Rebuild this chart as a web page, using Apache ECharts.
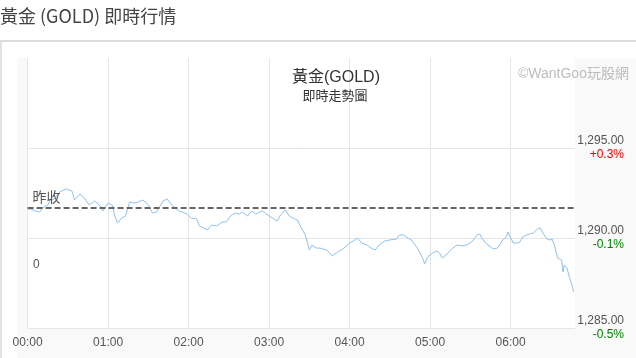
<!DOCTYPE html>
<html>
<head>
<meta charset="utf-8">
<script src="https://cdn.jsdelivr.net/npm/echarts@6/dist/echarts.min.js"></script>
<style>
html,body{margin:0;padding:0;background:#fff;}
#chart{width:636px;height:358px;}
</style>
</head>
<body>
<div id="chart"></div>
<script>
// ---- data ----
var minutes = [0,2,6,9,11,15,17,20,24,27,29,33,35,39,41,46,50,54,56,60,63,65,67,70,73,76,80,86,90,93,96,101,104,108,113,119,122,126,128,131,134,137,141,145,148,152,155,158,160,164,167,170,173,175,180,186,188,192,195,199,201,204,207,209,210,212,215,218,223,227,231,235,240,244,246,249,253,256,259,262,266,270,275,277,280,282,286,290,294,296,298,302,305,307,309,312,316,320,324,327,331,335,337,339,342,347,350,352,354,357,358,359,362,365,367,369,372,374,377,380,382,384,387,389,391,393,395,398,399,400,402,404,406,407];
var prices = [1291.61,1291.61,1291.50,1291.44,1291.67,1291.83,1292.11,1292.17,1292.56,1292.67,1292.72,1292.61,1292.11,1292.44,1292.33,1291.83,1292.06,1291.78,1291.50,1291.94,1291.83,1291.22,1290.83,1291.11,1291.22,1292.00,1291.94,1292.11,1291.83,1291.39,1291.44,1292.06,1292.17,1291.78,1291.50,1291.33,1291.11,1291.06,1290.67,1290.56,1290.44,1290.72,1290.67,1290.89,1290.89,1291.28,1291.39,1291.33,1291.44,1291.22,1291.50,1291.33,1291.44,1291.50,1291.22,1290.94,1291.22,1291.56,1291.22,1291.06,1291.00,1290.56,1290.17,1289.61,1289.33,1289.61,1289.44,1289.44,1289.33,1289.00,1289.22,1289.39,1289.72,1289.89,1290.00,1289.72,1289.61,1289.44,1289.33,1289.61,1289.83,1289.89,1289.94,1290.17,1290.17,1290.06,1289.89,1289.50,1288.94,1288.56,1288.94,1289.17,1289.28,1289.17,1288.89,1289.06,1289.39,1289.61,1289.56,1289.61,1289.78,1290.17,1290.22,1289.94,1289.67,1289.39,1289.44,1289.61,1289.89,1290.06,1290.33,1290.17,1289.72,1289.72,1289.78,1290.06,1290.17,1290.22,1290.28,1290.50,1290.56,1290.28,1289.94,1289.89,1289.94,1289.50,1288.89,1288.78,1288.11,1288.50,1288.33,1287.78,1287.33,1287.00];
var prevClose = 1291.67;
var xTickValues = [0,60,120,180,240,300,360];
var xTickLabels = ['00:00','01:00','02:00','03:00','04:00','05:00','06:00'];
var yTicks = [1285,1290,1295];
var yTickLabels = ['1,285.00','1,290.00','1,295.00'];
var pctLabels = ['-0.5%','-0.1%','+0.3%'];
var headerText = '黃金 (GOLD) 即時行情';
var chartTitle = '黃金(GOLD)';
var chartSubtitle = '即時走勢圖';
var watermark = '©WantGoo玩股網';
var prevCloseLabel = '昨收';

var seriesData = minutes.map(function (m, i) { return [m, prices[i]]; });

var chart = echarts.init(document.getElementById('chart'), null, {renderer: 'canvas'});
var font = 'Arial, "Liberation Sans", "Noto Sans CJK TC", sans-serif';
var cjk = '"Noto Sans CJK TC", "Liberation Sans", sans-serif';

chart.setOption({
  animation: false,
  backgroundColor: '#fff',
  graphic: [
    {type: 'rect', z: -10, silent: true, shape: {x: 17, y: 58, width: 619, height: 300}, style: {fill: '#f9f9f9'}},
    {type: 'rect', z: -5, silent: true, shape: {x: 0, y: 40, width: 636, height: 2}, style: {fill: '#dcdcdc'}},
    {type: 'rect', z: -5, silent: true, shape: {x: 0, y: 41, width: 2, height: 317}, style: {fill: '#e2e2e2'}},
    {type: 'text', left: 0, top: 7, style: {text: headerText, font: '18px ' + cjk, fill: '#444'}},
    {type: 'text', left: 33, top: 259, z: 10, style: {text: '0', font: '12px ' + font, fill: '#555'}},
    {type: 'text', left: 518, top: 67, z: 10, style: {text: watermark, font: '14px ' + font, fill: '#bdbdbd'}}
  ],
  title: [
    {text: chartTitle, left: 331, top: 65, textAlign: 'center',
     textStyle: {fontSize: 16, fontWeight: 'normal', color: '#333', fontFamily: font}},
    {text: chartSubtitle, left: 330, top: 84, textAlign: 'center',
     textStyle: {fontSize: 13, fontWeight: 'normal', color: '#333', fontFamily: cjk}}
  ],
  grid: {left: 27.6, right: 61, top: 58, bottom: 30, show: true, backgroundColor: '#fff', borderWidth: 0, containLabel: false},
  xAxis: {
    type: 'value', min: 0, max: 408, interval: 60,
    axisLine: {show: false}, axisTick: {show: false},
    axisLabel: {
      color: '#555', fontSize: 12, fontFamily: font, margin: 9, showMaxLabel: false,
      formatter: function (v) { var i = xTickValues.indexOf(v); return i < 0 ? '' : xTickLabels[i]; }
    },
    splitLine: {show: true, showMaxLine: false, lineStyle: {color: '#e6e6e6', width: 1}}
  },
  yAxis: {
    type: 'value', position: 'right', min: 1285, max: 1300, interval: 5,
    axisLine: {show: false}, axisTick: {show: false},
    axisLabel: {
      margin: 49, align: 'right',
      formatter: function (v) {
        var i = yTicks.indexOf(v);
        if (i < 0) return '';
        var key = pctLabels[i].charAt(0) === '+' ? 'up' : 'dn';
        return '{v|' + yTickLabels[i] + '}\n{' + key + '|' + pctLabels[i] + '}';
      },
      rich: {
        v: {color: '#555', fontSize: 12, fontFamily: font, lineHeight: 14, align: 'right'},
        up: {color: '#ee0000', fontSize: 12, fontFamily: font, lineHeight: 14, align: 'right'},
        dn: {color: '#008000', fontSize: 12, fontFamily: font, lineHeight: 14, align: 'right'}
      }
    },
    splitLine: {show: true, showMaxLine: false, lineStyle: {color: '#e6e6e6', width: 1}}
  },
  series: [{
    type: 'line',
    data: seriesData,
    showSymbol: false,
    symbol: 'none',
    lineStyle: {color: '#8fc1f0', width: 1},
    z: 3,
    markLine: {
      silent: true,
      symbol: 'none',
      z: 4,
      data: [{yAxis: prevClose}],
      lineStyle: {color: '#666', width: 2, type: [6, 3]},
      label: {
        show: true, position: 'insideStartTop', formatter: prevCloseLabel,
        color: '#555', fontSize: 14, fontFamily: cjk, distance: [5, 4]
      }
    }
  }]
});
</script>
</body>
</html>
